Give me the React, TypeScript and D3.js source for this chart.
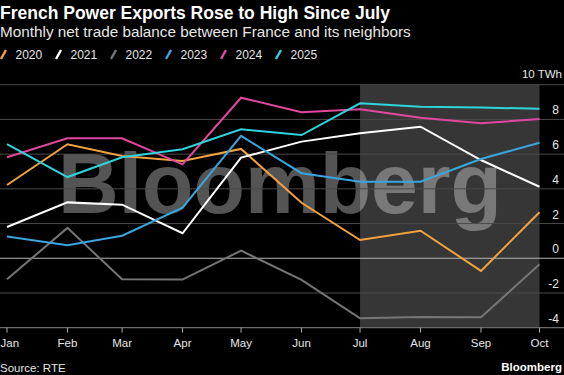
import React from "react";
import * as d3 from "d3";

const months = ["Jan", "Feb", "Mar", "Apr", "May", "Jun", "Jul", "Aug", "Sep", "Oct"];
const years = ["2020", "2021", "2022", "2023", "2024", "2025"];
const colors = ["#f2a23e", "#ffffff", "#767676", "#3aa6df", "#e0489f", "#2fd3dc"];

const v2020 = [4.22, 6.57, 5.89, 5.6, 6.3, 3.2, 1.05, 1.59, -0.73, 2.65];
const v2021 = [1.8, 3.22, 3.09, 1.44, 5.8, 6.72, 7.2, 7.58, 5.66, 4.12];
const v2022 = [-1.21, 1.75, -1.21, -1.23, 0.44, -1.25, -3.46, -3.38, -3.4, -0.35];
const v2023 = [1.25, 0.75, 1.3, 2.92, 7.05, 4.9, 4.41, 4.41, 5.72, 6.66];
const v2024 = [5.82, 6.91, 6.91, 5.41, 9.25, 8.41, 8.58, 8.1, 7.78, 8.02];
const v2025 = [6.57, 4.68, 5.82, 6.28, 7.43, 7.1, 8.93, 8.73, 8.68, 8.62];
const series = [v2020, v2021, v2022, v2023, v2024, v2025];

const yTicks = [-4, -2, 0, 2, 4, 6, 8, 10];

const FONT = "'Liberation Sans', Arial, sans-serif";

export default function App() {
  const W = 564, H = 375;
  const dates = months.map((_, i) => new Date(2021, i, 1));
  const x = d3.scaleTime().domain([dates[0], dates[dates.length - 1]]).range([7, 539.5]);
  const y = d3.scaleLinear().domain([-4, 10]).range([327.7, 84.7]);
  const line = d3
    .line<number>()
    .x((_, i) => x(dates[i]))
    .y((d) => y(d));

  const shadeX0 = x(dates[6]);
  const shadeX1 = x(dates[9]);

  return (
    <svg
      width={W}
      height={H}
      style={{ position: "absolute", left: 0, top: 0, background: "#000" }}
      fontFamily={FONT}
    >
      <rect x={0} y={0} width={W} height={H} fill="#000" />
      <text x={0} y={19} fill="#fff" fontSize={17.5} fontWeight="bold">
        French Power Exports Rose to High Since July
      </text>
      <text x={0} y={36.5} fill="#e6e6e6" fontSize={15.3}>
        Monthly net trade balance between France and its neighbors
      </text>
      {years.map((yr, i) => {
        const lx = i * 55;
        return (
          <g key={yr}>
            <line x1={lx + 1} y1={59} x2={lx + 6} y2={50} stroke={colors[i]} strokeWidth={2.4} />
            <text x={lx + 15.5} y={59} fill="#e6e6e6" fontSize={12}>
              {yr}
            </text>
          </g>
        );
      })}
      <rect x={shadeX0} y={y(10)} width={shadeX1 - shadeX0} height={y(-4) - y(10)} fill="#363636" />
      <text
        x={58}
        y={213}
        fill="#ffffff"
        fillOpacity={0.33}
        fontSize={86}
        fontWeight="bold"
        textLength={444}
        lengthAdjust="spacingAndGlyphs"
        fontFamily="'Liberation Sans', Arial, sans-serif"
      >
        Bloomberg
      </text>
      {yTicks.map((t) => (
        <g key={t}>
          {t !== -4 && (
            <line
              x1={0}
              x2={W}
              y1={y(t)}
              y2={y(t)}
              stroke={t === 0 ? "#b5b5b5" : "#4a4a4a"}
              strokeWidth={1}
            />
          )}
          {t !== 10 && (
            <text x={559} y={y(t) - 5} fill="#e6e6e6" fontSize={12} textAnchor="end">
              {t}
            </text>
          )}
        </g>
      ))}
      <text x={562} y={78} fill="#e6e6e6" fontSize={11.5} textAnchor="end">
        10 TWh
      </text>
      <line x1={0} x2={W} y1={y(-4)} y2={y(-4)} stroke="#6a6a6a" strokeWidth={1.2} />
      {dates.map((d, i) => (
        <g key={months[i]}>
          <line x1={x(d)} x2={x(d)} y1={y(-4)} y2={y(-4) + 5} stroke="#aaa" strokeWidth={1} />
          <text
            x={i === 0 ? 0.5 : x(d)}
            y={347}
            fill="#e6e6e6"
            fontSize={11.5}
            textAnchor={i === 0 ? "start" : "middle"}
          >
            {months[i]}
          </text>
        </g>
      ))}
      {series.map((s, i) => (
        <path
          key={years[i]}
          d={line(s) || ""}
          fill="none"
          stroke={colors[i]}
          strokeWidth={2}
          strokeLinejoin="miter"
        />
      ))}
      <text x={0} y={372} fill="#e6e6e6" fontSize={11.5}>
        Source: RTE
      </text>
      <text x={562} y={371} fill="#fff" fontSize={11.5} fontWeight="bold" textAnchor="end">
        Bloomberg
      </text>
    </svg>
  );
}
